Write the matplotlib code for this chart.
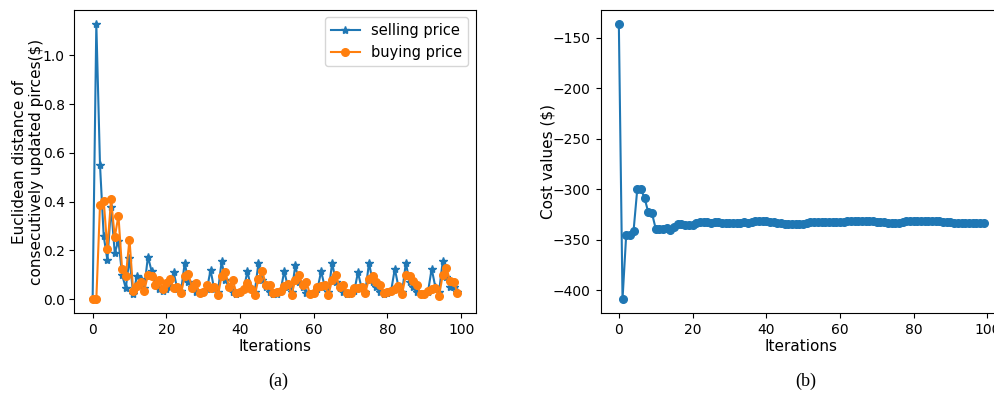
import matplotlib
matplotlib.use("Agg")
import matplotlib.pyplot as plt
import numpy as np

# Euclidean distance between consecutive price updates, per iteration
selling_price = [
    0.0, 1.13, 0.55, 0.26, 0.16, 0.38, 0.19, 0.24, 0.10, 0.045,
    0.17, 0.02, 0.095, 0.085, 0.045, 0.175, 0.115, 0.06, 0.04, 0.035,
    0.04, 0.05, 0.11, 0.04, 0.035, 0.15, 0.07, 0.05, 0.03, 0.025,
    0.03, 0.04, 0.12, 0.04, 0.03, 0.155, 0.08, 0.05, 0.03, 0.02,
    0.03, 0.04, 0.115, 0.045, 0.03, 0.15, 0.08, 0.05, 0.03, 0.02,
    0.02, 0.035, 0.115, 0.05, 0.03, 0.14, 0.07, 0.05, 0.025, 0.02,
    0.025, 0.04, 0.115, 0.05, 0.03, 0.15, 0.07, 0.045, 0.03, 0.02,
    0.025, 0.035, 0.11, 0.045, 0.03, 0.15, 0.07, 0.05, 0.03, 0.02,
    0.025, 0.035, 0.125, 0.05, 0.03, 0.15, 0.07, 0.05, 0.03, 0.02,
    0.02, 0.03, 0.125, 0.05, 0.03, 0.155, 0.09, 0.05, 0.05, 0.03,
]
buying_price = [
    0.0, 0.0, 0.387, 0.405, 0.207, 0.41, 0.255, 0.343, 0.122, 0.095,
    0.245, 0.034, 0.054, 0.07, 0.034, 0.10, 0.095, 0.058, 0.079, 0.041,
    0.065, 0.084, 0.046, 0.05, 0.025, 0.095, 0.102, 0.048, 0.065, 0.027,
    0.03, 0.058, 0.045, 0.052, 0.016, 0.095, 0.113, 0.052, 0.08, 0.025,
    0.03, 0.04, 0.065, 0.043, 0.016, 0.084, 0.116, 0.06, 0.06, 0.025,
    0.03, 0.034, 0.054, 0.063, 0.019, 0.08, 0.10, 0.057, 0.07, 0.02,
    0.025, 0.05, 0.055, 0.06, 0.019, 0.08, 0.10, 0.05, 0.057, 0.025,
    0.027, 0.045, 0.048, 0.052, 0.027, 0.085, 0.095, 0.07, 0.057, 0.025,
    0.03, 0.035, 0.043, 0.055, 0.023, 0.10, 0.095, 0.075, 0.06, 0.02,
    0.022, 0.034, 0.04, 0.046, 0.013, 0.10, 0.13, 0.073, 0.07, 0.027,
]

# Total cost per iteration
cost_values = [
    -136, -409, -345, -345, -341, -300, -300, -309, -323, -324,
    -339, -339, -339, -338, -340, -337, -334, -334, -335, -335,
    -335, -333, -332, -332, -332, -333, -332, -332, -333, -333,
    -333, -333, -333, -333, -332, -333, -332, -331, -331, -331,
    -331, -332, -332, -333, -333, -334, -334, -334, -334, -334,
    -334, -333, -332, -332, -332, -332, -332, -332, -332, -332,
    -332, -332, -331, -331, -331, -331, -331, -331, -331, -331,
    -332, -332, -332, -333, -333, -333, -333, -332, -331, -331,
    -331, -331, -331, -331, -331, -331, -331, -331, -332, -332,
    -332, -333, -333, -333, -333, -333, -333, -333, -333, -333,
]

iters_a = np.arange(len(selling_price))
iters_b = np.arange(len(cost_values))

W, H = 994, 395
fig = plt.figure(figsize=(W / 100, H / 100), dpi=100)
plt.rcParams["font.family"] = "DejaVu Sans"

ax1 = fig.add_axes([74.4 / W, 82 / H, 401.3 / W, 303 / H])
ax1.plot(iters_a, selling_price, marker="*", color="#1f77b4",
         markersize=6, linewidth=1.5, label="selling price")
ax1.plot(iters_a, buying_price, marker="o", color="#ff7f0e",
         markersize=5.5, linewidth=1.5, label="buying price")
ax1.set_xlabel("Iterations", fontsize=11, labelpad=1.5)
ax1.set_ylabel("Euclidean distance of\nconsecutively updated pirces($)",
               fontsize=11, labelpad=-1)
ax1.tick_params(labelsize=10)
ax1.legend(loc="upper right", fontsize=10.5)

ax2 = fig.add_axes([600.6 / W, 82 / H, 401.3 / W, 303 / H])
ax2.plot(iters_b, cost_values, marker="o", color="#1f77b4",
         markersize=5.5, linewidth=1.5)
ax2.set_xlabel("Iterations", fontsize=11, labelpad=1.5)
ax2.set_ylabel("Cost values ($)", fontsize=11, labelpad=-2)
ax2.tick_params(labelsize=10)
ax2.set_yticks([-400, -350, -300, -250, -200, -150])

fig.text(278 / W, 1 - 381 / H, "(a)", ha="center", va="center",
         family="Liberation Serif", fontsize=13)
fig.text(806 / W, 1 - 381 / H, "(b)", ha="center", va="center",
         family="Liberation Serif", fontsize=13)

fig.savefig("out.png", dpi=100)
